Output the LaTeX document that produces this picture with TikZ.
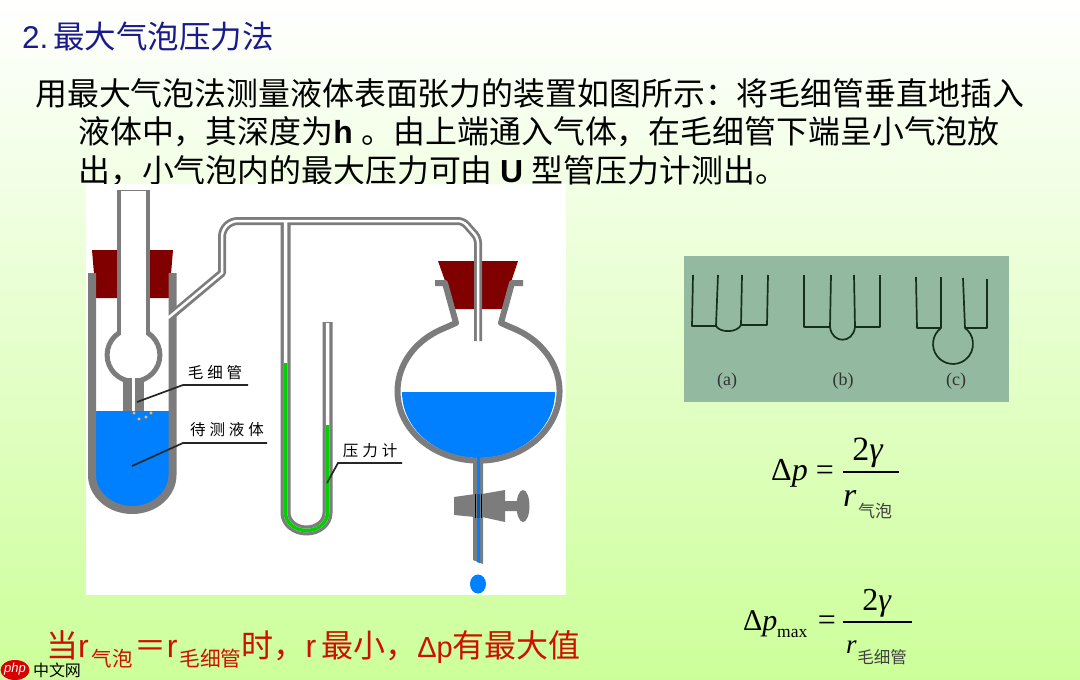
\documentclass[tikz,border=0pt]{standalone}
\usepackage{fontspec}
\usepackage{xcolor}
\setmainfont{Liberation Sans}
\newfontfamily\cjk{Noto Sans CJK SC}
\newfontfamily\serifm{Liberation Serif}
\definecolor{bgbottom}{HTML}{CCFF99}
\definecolor{headingblue}{HTML}{1A1A8C}
\definecolor{glass}{HTML}{7C7C7C}
\definecolor{liquid}{HTML}{0080FF}
\definecolor{stopperred}{HTML}{800000}
\definecolor{gauge}{HTML}{00D000}
\definecolor{photo}{HTML}{93B9A0}
\definecolor{photoline}{HTML}{14301C}
\definecolor{redtext}{HTML}{CC1100}
\newcommand{\zh}[1]{{\cjk #1}}
\newcommand{\sz}[1]{\fontsize{#1}{#1}\selectfont}
\tikzstyle{txt} = [inner sep=0pt, anchor=base west]
\tikzstyle{bodyline} = [txt, font=\sz{31.9}, text=black]
\tikzstyle{tag} = [inner sep=0pt, font=\sz{15.5}, text=black]
\tikzstyle{leader} = [draw=black!85, line width=1.7pt]
\tikzstyle{wall} = [draw=glass, line join=round]
\tikzstyle{plug} = [fill=stopperred]
\tikzstyle{sketch} = [draw=photoline, line width=1.7pt, line join=round]
\tikzstyle{caption} = [inner sep=0pt, font={\serifm\sz{18}}, text=black!80]
\tikzstyle{formula} = [inner sep=0pt, anchor=base, font={\serifm\sz{32}}]
\tikzstyle{subs} = [inner sep=0pt, font=\sz{17}, text=black!75]
\begin{document}
\begin{tikzpicture}[x=1pt, y=-1pt]
\useasboundingbox (0,0) rectangle (1080,680);
\shade[top color=white, bottom color=bgbottom] (0,0) rectangle (1080,680);

% heading and text
\node[txt, font=\sz{31.5}, text=headingblue] (heading) at (22,48) {2.\hspace{5pt}\zh{最大气泡压力法}};
\node[bodyline] (lineone) at (35,105) {\zh{用最大气泡法测量液体表面张力的装置如图所示：将毛细管垂直地插入}};
\node[bodyline] (linetwo) at (78,143) {\zh{液体中，其深度为}\textbf{h }\zh{。由上端通入气体，在毛细管下端呈小气泡放}};
\node[bodyline] (linethree) at (78,182) {\zh{出，小气泡内的最大压力可由 }\textbf{U }\zh{型管压力计测出。}};

\fill[white] (86,184) rectangle (566,595);

% left vessel
\fill[plug] (92,250) -- (173,250) -- (169,298) -- (96,298) -- cycle;
\fill[liquid] (92,411) -- (92,475) arc[start angle=180, end angle=0, x radius=40.25, y radius=35] -- (172.5,411) -- cycle;
\draw[wall, line width=8pt] (92,273) -- (92,475) arc[start angle=180, end angle=0, x radius=40.25, y radius=35] -- (172.5,273);
\fill[white] (119,190) rectangle (148,335);
\draw[wall, line width=5pt, fill=white] (133.5,355) circle (26.4);
\draw[wall, line width=4.5pt] (119,190) -- (119,334);
\draw[wall, line width=4.5pt] (148,190) -- (148,334);
\fill[white] (121.3,300) rectangle (145.7,340);
\draw[wall, line width=1pt] (119,190) -- (148,190);
\fill[glass] (123,378) rectangle (144,411);
\fill[white] (132,372) rectangle (135,411);
\foreach \bx/\by in {134/413, 139/419, 146/417, 151/413}
    \draw[glass, fill=white, line width=0.6pt] (\bx,\by) circle (1.6);

% flask stopper, drawn under the tube
\fill[plug] (438,261) -- (518,261) -- (502,309) -- (455,309) -- cycle;

% tubes
\draw[wall, line width=8pt] (172,315) -- (222,273) [rounded corners=16pt] -- (222,221) [rounded corners=5pt] -- (463,221) -- (478,238) [sharp corners] -- (478,341);
\draw[wall, line width=10pt] (285.5,221) -- (285.5,513) arc[start angle=180, end angle=0, x radius=21, y radius=17.5] -- (327.5,322);
\draw[white, line width=2.5pt] (168,318) -- (222,273) [rounded corners=16pt] -- (222,221) [rounded corners=5pt] -- (463,221) -- (478,238) [sharp corners] -- (478,341);
\draw[white, line width=3.5pt] (285.5,221) -- (285.5,513) arc[start angle=180, end angle=0, x radius=21, y radius=17.5] -- (327.5,323);
\draw[gauge, line width=3.5pt] (285.5,363) -- (285.5,513) arc[start angle=180, end angle=0, x radius=21, y radius=17.5] -- (327.5,425);
\draw[wall, line width=1pt] (323,322) -- (332,322);

% flask
\fill[liquid] (402,392) arc[start angle=180, end angle=0, x radius=76.5, y radius=66] -- cycle;
\draw[wall, line width=6pt] (435,283) -- (445,283) -- (456,323) -- (440,330)
    arc[start angle=241.6, end angle=-61.6, x radius=81, y radius=69.5] -- (501,323) -- (512,283) -- (523,283);
\fill[glass] (473,459) -- (483,459) -- (483,564) -- (473,560) -- cycle;
\fill[liquid] (477,452) -- (480,452) -- (480,563) -- (477,562) -- cycle;

% stopcock
\fill[glass] (454,497) -- (475,494) -- (475,517) -- (454,515) -- cycle;
\fill[glass] (482,494) -- (505,490) -- (505,501) -- (518,501) -- (518,511) -- (505,511) -- (505,522) -- (482,517) -- cycle;
\fill[glass] (523,506) ellipse[x radius=6.5, y radius=16];
\fill[liquid!70!black] (477,494) rectangle (480,518);
\draw[black, line width=0.8pt] (475.5,494) -- (475.5,518);
\draw[black, line width=0.8pt] (481.5,494) -- (481.5,518);
\fill[liquid] (478,584) ellipse[x radius=8, y radius=9.5];

% labels on the apparatus
\node[tag] (capillabel) at (215,373) {\zh{毛\hspace{4pt}细\hspace{4pt}管}};
\node[tag] (liquidlabel) at (227,430) {\zh{待\hspace{4pt}测\hspace{4pt}液\hspace{4pt}体}};
\node[tag] (gaugelabel) at (370,451) {\zh{压\hspace{4pt}力\hspace{4pt}计}};
\coordinate (capiltip) at (137,402);
\coordinate (capilbend) at (183,385);
\coordinate (capilend) at (248,385);
\coordinate (liquidtip) at (132,466);
\coordinate (liquidbend) at (183,443);
\coordinate (liquidend) at (267,443);
\coordinate (gaugetip) at (327,483);
\coordinate (gaugebend) at (338,463);
\coordinate (gaugeend) at (402,463);
\draw[leader] (capiltip) -- (capilbend) -- (capilend);
\draw[leader] (liquidtip) -- (liquidbend) -- (liquidend);
\draw[leader] (gaugetip) -- (gaugebend) -- (gaugeend);

% scanned sketch of the three bubbles
\fill[photo] (684,256) rectangle (1009,402);
\draw[sketch] (693,275) -- (692,326) -- (716,326) -- (718,275);
\draw[sketch] (716,326) .. controls (720,333) and (737,333) .. (741,325);
\draw[sketch] (742,275) -- (741,325) -- (767,325) -- (768,275);
\draw[sketch] (804,275) -- (804,327) -- (830,327) -- (831,275);
\draw[sketch] (830,327) .. controls (832,344) and (853,344) .. (855,327);
\draw[sketch] (854,275) -- (855,327) -- (880,327) -- (880,275);
\draw[sketch] (916,277) -- (917,328) -- (941,328) -- (941,277);
\draw[sketch] (941,328) arc[start angle=233, end angle=-53, radius=20];
\draw[sketch] (963,278) -- (965,328) -- (987,328) -- (987,279);
\node[caption] (capa) at (727,381) {(a)};
\node[caption] (capb) at (843,381) {(b)};
\node[caption] (capc) at (956,381) {(c)};

% first formula
\node[formula, anchor=base west] (dpa) at (771,480) {Δ\textit{p}};
\node[formula] (eqa) at (825,480) {=};
\node[formula, font={\serifm\sz{34}}] (numa) at (868,460) {2\textit{γ}};
\node[formula, anchor=base west, font={\serifm\sz{34}}] (ra) at (843,506) {\textit{r}};
\node[subs] (suba) at (875,511) {\zh{气泡}};
\coordinate (barastart) at (843,472);
\coordinate (baraend) at (899,472);
\draw[line width=1.2pt] (barastart) -- (baraend);

% second formula
\node[formula, anchor=base west, font={\serifm\sz{30}}] (dpb) at (743,630) {Δ\textit{p}};
\node[formula, anchor=base west, font={\serifm\sz{17.5}}] (maxb) at (777,637) {max};
\node[formula] (eqb) at (827,630) {=};
\node[formula] (numb) at (877,610) {2\textit{γ}};
\node[formula, anchor=base west, font={\serifm\sz{27}}] (rb) at (846,653) {\textit{r}};
\node[subs, font=\sz{16.5}] (subb) at (882,657) {\zh{毛细管}};
\coordinate (barbstart) at (843,622);
\coordinate (barbend) at (912,622);
\draw[line width=1.2pt] (barbstart) -- (barbend);

% red conclusion
\node[txt, font=\sz{32}, text=redtext] (conclusion) at (46,657) {\zh{当}r\hspace{3pt}\raisebox{-9pt}{\sz{20.5}\zh{气泡}}\hspace{2pt}\zh{＝}r\hspace{2pt}\raisebox{-9pt}{\sz{20.7}\zh{毛细管}}\zh{时，}r\hspace{5pt}\zh{最小，}{\sz{29}Δp}\zh{有最大值}};

% watermark
\fill[red!85!black] (15,670) ellipse[x radius=14.5, y radius=10];
\node[inner sep=0pt, font=\sz{13}\itshape, text=white] (phpmark) at (15,669) {php};
\node[inner sep=0pt, font=\sz{16}, text=black] (cnmark) at (57,670) {\zh{中文网}};
\end{tikzpicture}
\end{document}
